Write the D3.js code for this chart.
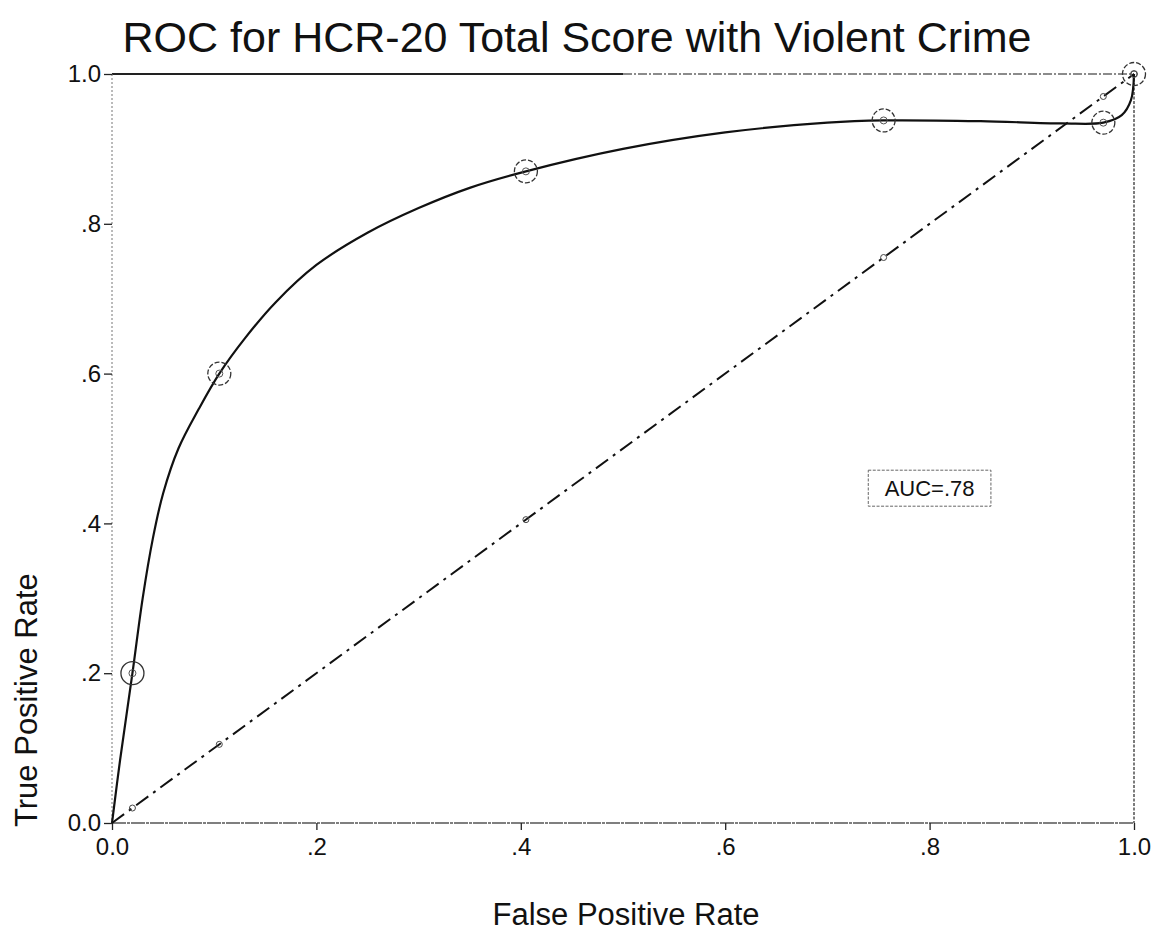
<!DOCTYPE html>
<html>
<head>
<meta charset="utf-8">
<script src="https://cdn.jsdelivr.net/npm/d3@7"></script>
<style>
  html, body { margin: 0; padding: 0; background: #fff; }
  svg { display: block; font-family: "Liberation Sans", Arial, sans-serif; }
</style>
</head>
<body>
<svg id="chart" width="1163" height="931"></svg>
<script>
// ROC curve for the HCR-20 total score against violent crime
const titleText = "ROC for HCR-20 Total Score with Violent Crime";
const xTitle = "False Positive Rate";
const yTitle = "True Positive Rate";
const aucLabel = "AUC=.78";

// operating points (cut-offs) of the HCR-20 total score
const pointFpr = [0.02, 0.105, 0.405, 0.755, 0.97, 1.0];
const pointTpr = [0.20, 0.60, 0.87, 0.938, 0.935, 1.0];

// smoothed ROC curve traced through the operating points
const curveFpr = [0, 0.008, 0.02, 0.03, 0.04, 0.05, 0.065, 0.085, 0.105, 0.13, 0.16, 0.2, 0.25, 0.3, 0.35, 0.405, 0.5, 0.6, 0.7, 0.755, 0.85, 0.93, 0.97, 0.988, 0.997, 1.0];
const curveTpr = [0, 0.085, 0.20, 0.30, 0.38, 0.44, 0.50, 0.553, 0.60, 0.647, 0.695, 0.745, 0.788, 0.821, 0.848, 0.87, 0.90, 0.922, 0.935, 0.938, 0.937, 0.934, 0.935, 0.945, 0.965, 1.0];

// chance diagonal
const diagFpr = [0, 1];
const diagTpr = [0, 1];

const tickValues = [0, 0.2, 0.4, 0.6, 0.8, 1.0];
const tickLabels = ["0.0", ".2", ".4", ".6", ".8", "1.0"];

const svg = d3.select("#chart");
const margin = { left: 112, right: 29, top: 74, bottom: 108 };
const W = 1163, H = 931;

const x = d3.scaleLinear().domain([0, 1]).range([margin.left, W - margin.right]);
const y = d3.scaleLinear().domain([0, 1]).range([H - margin.bottom, margin.top]);

// title
svg.append("text")
  .attr("x", 577).attr("y", 52)
  .attr("text-anchor", "middle")
  .attr("font-size", 43)
  .attr("fill", "#111")
  .text(titleText);

// frame: top solid, right/left dotted, bottom grey
const x0 = x(0), x1 = x(1), y0 = y(0), y1 = y(1);
svg.append("line").attr("x1", x0).attr("x2", x(0.5)).attr("y1", y1).attr("y2", y1)
  .attr("stroke", "#222").attr("stroke-width", 1.8);
svg.append("line").attr("x1", x(0.5)).attr("x2", x1).attr("y1", y1).attr("y2", y1)
  .attr("stroke", "#666").attr("stroke-width", 1.3).attr("stroke-dasharray", "9,2,2,2");
svg.append("line").attr("x1", x1).attr("x2", x1).attr("y1", y1).attr("y2", y0)
  .attr("stroke", "#444").attr("stroke-width", 1.4).attr("stroke-dasharray", "3,1.5");
svg.append("line").attr("x1", x0).attr("x2", x0).attr("y1", y1).attr("y2", y0)
  .attr("stroke", "#777").attr("stroke-width", 1).attr("stroke-dasharray", "2,2");
svg.append("line").attr("x1", x0).attr("x2", x1).attr("y1", y0).attr("y2", y0)
  .attr("stroke", "#555").attr("stroke-width", 1.4).attr("stroke-dasharray", "14,1,3,1");

// axes
const fmt = d => tickLabels[tickValues.indexOf(d)];
const xAxis = d3.axisBottom(x).tickValues(tickValues).tickFormat(fmt).tickSize(7).tickPadding(8);
const yAxis = d3.axisLeft(y).tickValues(tickValues).tickFormat(fmt).tickSize(8).tickPadding(3);

const gx = svg.append("g").attr("transform", `translate(0,${y0})`).call(xAxis);
const gy = svg.append("g").attr("transform", `translate(${x0},0)`).call(yAxis);
[gx, gy].forEach(g => {
  g.select(".domain").remove();
  g.selectAll(".tick line").attr("stroke", "#222").attr("stroke-width", 1.3);
  g.selectAll(".tick text").attr("font-size", 24).attr("fill", "#111")
    .attr("font-family", "'Liberation Sans', Arial, sans-serif");
});

// axis titles
svg.append("text")
  .attr("x", 626).attr("y", 925)
  .attr("text-anchor", "middle")
  .attr("font-size", 31).attr("fill", "#111")
  .text(xTitle);
svg.append("text")
  .attr("transform", `translate(37,827)rotate(-90)`)
  .attr("text-anchor", "start")
  .attr("font-size", 31).attr("fill", "#111")
  .text(yTitle);

// diagonal reference line (dash-dot)
const diag = diagFpr.map((d, i) => [d, diagTpr[i]]);
svg.append("path")
  .datum(diag)
  .attr("d", d3.line().x(d => x(d[0])).y(d => y(d[1])))
  .attr("fill", "none").attr("stroke", "#111").attr("stroke-width", 2)
  .attr("stroke-dasharray", "15,6,3,6");

// small markers on the diagonal at the same cut-off rates
svg.append("g").selectAll("circle")
  .data(pointFpr)
  .join("circle")
  .attr("cx", d => x(d)).attr("cy", d => y(d))
  .attr("r", 3).attr("fill", "none").attr("stroke", "#444").attr("stroke-width", 1);

// ROC curve
const curve = curveFpr.map((d, i) => [d, curveTpr[i]]);
svg.append("path")
  .datum(curve)
  .attr("d", d3.line().curve(d3.curveCatmullRom.alpha(0.5)).x(d => x(d[0])).y(d => y(d[1])))
  .attr("fill", "none").attr("stroke", "#111").attr("stroke-width", 2.2);

// operating point markers: outer ring + inner ring
const pts = pointFpr.map((d, i) => [d, pointTpr[i]]);
const gp = svg.append("g");
gp.selectAll("circle.outer")
  .data(pts)
  .join("circle")
  .attr("class", "outer")
  .attr("cx", d => x(d[0])).attr("cy", d => y(d[1]))
  .attr("r", 11.5).attr("fill", "none").attr("stroke", "#333").attr("stroke-width", 1.3)
  .attr("stroke-dasharray", (d, i) => i === 0 ? null : "5,2");
gp.selectAll("circle.inner")
  .data(pts)
  .join("circle")
  .attr("class", "inner")
  .attr("cx", d => x(d[0])).attr("cy", d => y(d[1]))
  .attr("r", 3.5).attr("fill", "none").attr("stroke", "#555").attr("stroke-width", 1);

// AUC annotation box
const aucFpr = [0.74, 0.86];
const aucTpr = 0.447;
const bx = x(aucFpr[0]), bw = x(aucFpr[1]) - x(aucFpr[0]);
svg.append("rect")
  .attr("x", bx).attr("y", y(aucTpr) - 18)
  .attr("width", bw).attr("height", 36)
  .attr("fill", "#fff").attr("stroke", "#666").attr("stroke-width", 1)
  .attr("stroke-dasharray", "3,1.5");
svg.append("text")
  .attr("x", bx + bw / 2).attr("y", y(aucTpr) + 8)
  .attr("text-anchor", "middle")
  .attr("font-size", 22).attr("fill", "#111")
  .text(aucLabel);
</script>
</body>
</html>
